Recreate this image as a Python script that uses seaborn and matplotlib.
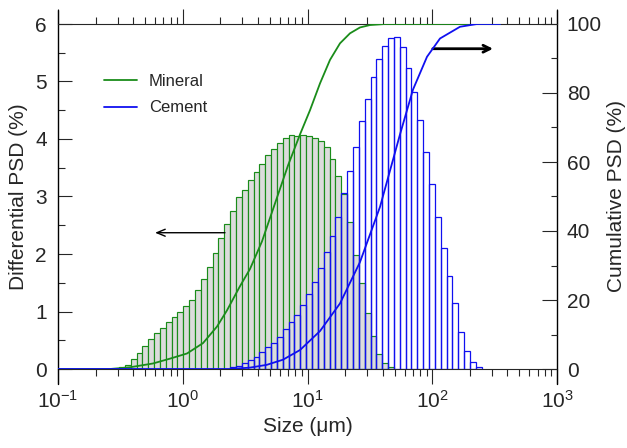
import numpy as np
import matplotlib
matplotlib.use('Agg')
import matplotlib.pyplot as plt
import seaborn as sns
from matplotlib.ticker import LogLocator, MultipleLocator, NullFormatter, FuncFormatter

# channel grid of the sizer (geometric size classes, um)
channel_edges = np.geomspace(0.3083, 249.1, 63)

# differential PSD (%) per channel
mineral_psd = [0.03, 0.07, 0.17, 0.28, 0.40, 0.53, 0.62, 0.72, 0.82, 0.91,
               1.00, 1.10, 1.20, 1.37, 1.57, 1.78, 2.02, 2.27, 2.52, 2.75,
               2.99, 3.12, 3.29, 3.43, 3.57, 3.72, 3.82, 3.93, 4.01, 4.07,
               4.05, 4.07, 4.05, 4.01, 3.96, 3.86, 3.65, 3.36, 3.05, 2.55,
               1.98, 1.49, 0.98, 0.57, 0.26, 0.10, 0.03]
mineral_first = 0
cement_psd = [0.03, 0.06, 0.10, 0.16, 0.21, 0.29, 0.38, 0.46, 0.56, 0.69,
              0.81, 0.94, 1.11, 1.30, 1.51, 1.75, 2.03, 2.32, 2.64, 3.06,
              3.44, 3.86, 4.31, 4.70, 5.07, 5.39, 5.62, 5.75, 5.77, 5.60,
              5.23, 4.81, 4.33, 3.78, 3.21, 2.65, 2.11, 1.62, 1.14, 0.65,
              0.31, 0.12, 0.04]
cement_first = 19

# cumulative PSD (%)
mineral_cum_size = [0.1, 0.261, 0.378, 0.577, 0.790, 1.082, 1.453, 1.882, 2.263, 2.876,
                    3.461, 4.318, 5.489, 6.979, 8.709, 10.47, 12.60, 15.15, 18.22, 21.91,
                    26.35, 31.70, 41.81, 350]
mineral_cum = [0, 0, 0.5, 1.6, 3.0, 4.5, 7.5, 12.3, 17, 24,
               29, 37, 48, 59, 68, 75, 82.8, 89.6, 94.4, 97.3,
               99, 99.7, 100, 100]
cement_cum_size = [0.1, 2.392, 3.461, 4.709, 6.362, 8.709, 12.60, 18.22, 26.35, 38.13,
                   55.14, 70.10, 90.77, 115.4, 166.9, 228.4, 350]
cement_cum = [0, 0, 0.4, 1.2, 2.7, 5.5, 11, 19, 31, 47,
              68, 81, 90.5, 95.8, 99.2, 100, 100]

green = '#1a8c1a'
blue = '#1010f0'

sns.set_style('ticks')
plt.rcParams['font.family'] = ['Liberation Sans', 'DejaVu Sans']
plt.rcParams['mathtext.default'] = 'regular'

fig = plt.figure(figsize=(6.27, 4.48), dpi=100)
ax = fig.add_axes([58 / 627, 79 / 448, 499 / 627, 345 / 448])
ax.set_xscale('log')

# histogramas
m_edges = channel_edges[mineral_first:mineral_first + len(mineral_psd) + 1]
c_edges = channel_edges[cement_first:cement_first + len(cement_psd) + 1]
ax.bar(m_edges[:-1], mineral_psd, width=np.diff(m_edges), align='edge',
       color='#dcdcdc', edgecolor=green, linewidth=0.85)
ax.bar(c_edges[:-1], cement_psd, width=np.diff(c_edges), align='edge',
       fill=False, edgecolor=blue, linewidth=0.9)

ax2 = ax.twinx()
sns.lineplot(x=mineral_cum_size, y=mineral_cum, ax=ax2, color=green, lw=1.3, label='Mineral')
sns.lineplot(x=cement_cum_size, y=cement_cum, ax=ax2, color=blue, lw=1.3, label='Cement')

ax.set_xlim(0.1, 1000)
ax.set_ylim(0, 6)
ax2.set_ylim(0, 100)

# eixos: laterais estendidos alem do topo e da base
for s in ['left', 'right']:
    ax.spines[s].set_visible(False)
for s in ax2.spines:
    ax2.spines[s].set_visible(False)
ax.spines['bottom'].set_zorder(0.5)
for xp in (0, 1):
    ax.plot([xp, xp], [-15 / 345, 1 + 14 / 345], transform=ax.transAxes,
            color='k', lw=1.0, clip_on=False)

ax.xaxis.set_major_locator(LogLocator(base=10, numticks=10))
ax.xaxis.set_minor_locator(LogLocator(base=10, subs=np.arange(2, 10), numticks=100))
ax.xaxis.set_minor_formatter(NullFormatter())
ax.xaxis.set_major_formatter(FuncFormatter(lambda v, p: r'$10^{%d}$' % round(np.log10(v))))
ax.tick_params(axis='x', which='both', direction='out', top=True, bottom=True,
               labeltop=False, width=0.8)
ax.tick_params(axis='x', which='major', length=11, pad=4, labelsize=15)
ax.tick_params(axis='x', which='minor', length=5)

ax.yaxis.set_major_locator(MultipleLocator(1))
ax.yaxis.set_minor_locator(MultipleLocator(0.5))
ax.tick_params(axis='y', which='both', direction='in', left=True, right=False, width=0.8)
ax.tick_params(axis='y', which='major', length=10, labelsize=15, pad=8)
ax.tick_params(axis='y', which='minor', length=5)

ax2.yaxis.set_major_locator(MultipleLocator(20))
ax2.yaxis.set_minor_locator(MultipleLocator(10))
ax2.tick_params(axis='y', which='both', direction='in', right=True, left=False, width=0.8)
ax2.tick_params(axis='y', which='major', length=11, labelsize=15, pad=7)
ax2.tick_params(axis='y', which='minor', length=4.5)

ax.set_xlabel('Size (μm)', fontsize=15, labelpad=4)
ax.set_ylabel('Differential PSD (%)', fontsize=15, labelpad=5)
ax2.set_ylabel('Cumulative PSD (%)', fontsize=15, labelpad=4)

# setas indicando o eixo de cada curva
ax.annotate('', xy=(0.60, 2.37), xytext=(2.18, 2.37),
            arrowprops=dict(arrowstyle='->,head_length=0.6,head_width=0.25',
                            color='k', lw=1.0, shrinkA=0, shrinkB=0))
ax.annotate('', xy=(307, 5.57), xytext=(101, 5.57),
            arrowprops=dict(arrowstyle='->,head_length=0.5,head_width=0.25',
                            color='k', lw=2.0, shrinkA=0, shrinkB=0))

ax2.legend(loc='upper left', bbox_to_anchor=(0.092, 0.856), frameon=False,
           fontsize=12, handlelength=2.0, handletextpad=0.7, labelspacing=0.7,
           borderpad=0, borderaxespad=0)

fig.savefig('out.png', dpi=100)
